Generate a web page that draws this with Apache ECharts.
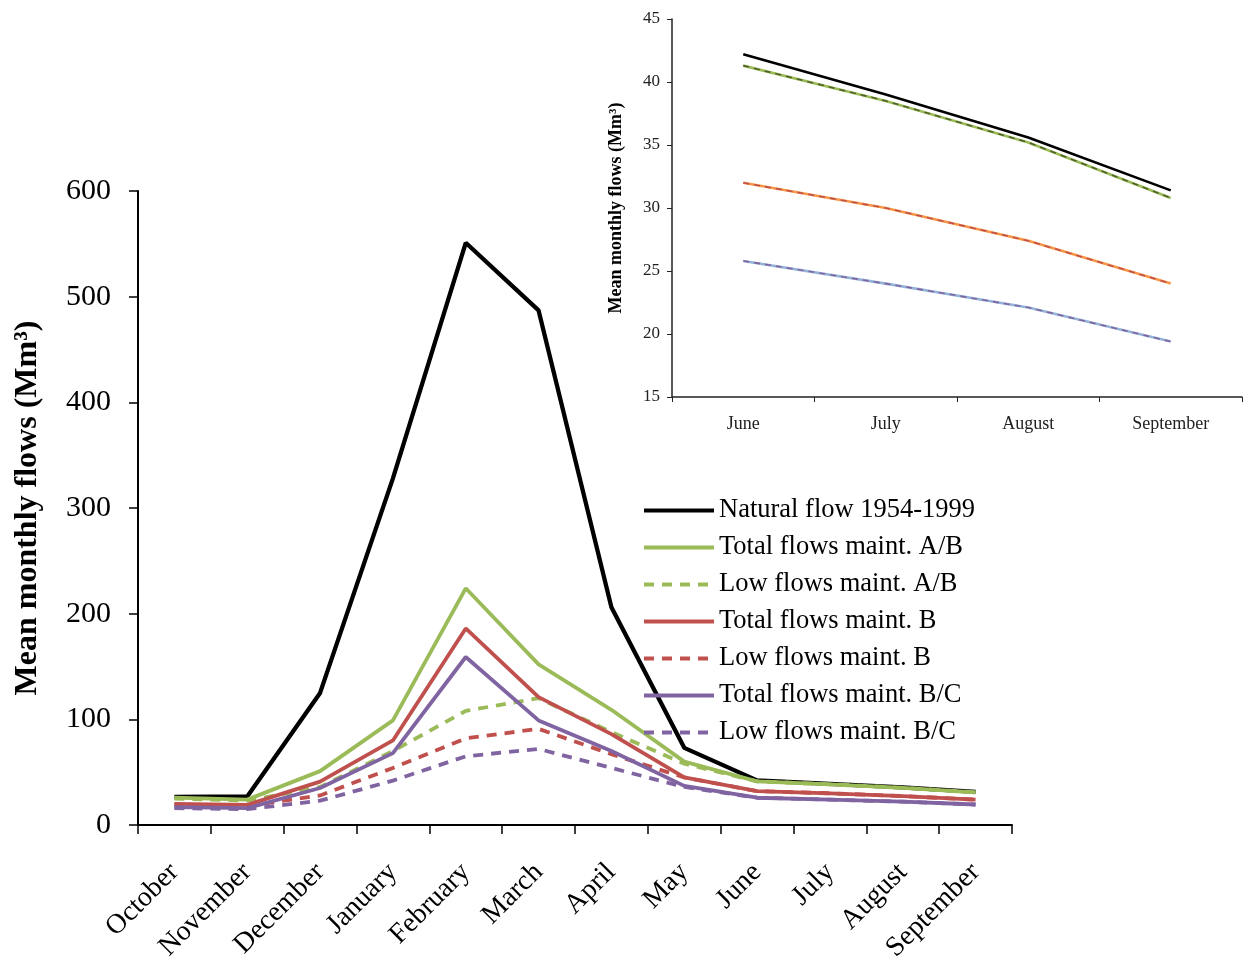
<!DOCTYPE html>
<html>
<head>
<meta charset="utf-8">
<script src="https://cdn.jsdelivr.net/npm/echarts@6/dist/echarts.min.js"></script>
<style>
html,body{margin:0;padding:0;background:#fff;}
#chart{width:1248px;height:969px;}
</style>
</head>
<body>
<div id="chart"></div>
<script>
// ---- data ----
const months = ['October','November','December','January','February','March','April','May','June','July','August','September'];
const yTicks = [0, 100, 200, 300, 400, 500, 600];
const natural = [26.5, 27, 125, 328, 551, 487, 206, 73, 42.2, 39.0, 35.6, 31.4];
const totalAB = [26, 24, 51, 99, 224, 152, 109, 60, 41.3, 38.5, 35.2, 30.8];
const lowAB   = [25, 23, 36, 70, 108, 120, 88, 58, 41.3, 38.5, 35.2, 30.8];
const totalB  = [20, 19, 41, 80, 186, 121, 86, 45, 32.0, 30.0, 27.4, 24.0];
const lowB    = [19, 18, 28, 54, 82, 91, 67, 45, 32.0, 30.0, 27.4, 24.0];
const totalBC = [17, 16, 35, 68, 159, 99, 70, 37, 25.8, 24.0, 22.1, 19.4];
const lowBC   = [16, 15, 23, 42, 65, 72, 54, 36, 25.8, 24.0, 22.1, 19.4];

const insetMonths  = ['June','July','August','September'];
const insetTicks   = [15, 20, 25, 30, 35, 40, 45];
const insetNatural = [42.2, 39.0, 35.6, 31.4];
const insetAB      = [41.3, 38.5, 35.2, 30.8];
const insetB       = [32.0, 30.0, 27.4, 24.0];
const insetBC      = [25.8, 24.0, 22.1, 19.4];

const names = ['Natural flow 1954-1999','Total flows maint. A/B','Low flows maint. A/B','Total flows maint. B','Low flows maint. B','Total flows maint. B/C','Low flows maint. B/C'];

const serif = '"Liberation Serif","Times New Roman",serif';

function mainLine(name, data, color, dashed, width) {
  return {
    name, type: 'line', data, xAxisIndex: 0, yAxisIndex: 0,
    symbol: 'none', showSymbol: false, smooth: false,
    lineStyle: { color, width: width || 3.8, type: dashed ? [10, 8] : 'solid' },
    itemStyle: { color }
  };
}
function insetLine(name, data, color, dashed, z) {
  return {
    name, type: 'line', data, xAxisIndex: 1, yAxisIndex: 1,
    symbol: 'none', showSymbol: false, z: z || 2,
    lineStyle: { color, width: dashed ? 1.6 : 2.6, type: dashed ? [6, 5] : 'solid' },
    itemStyle: { color }
  };
}

const chart = echarts.init(document.getElementById('chart'));
chart.setOption({
  animation: false,
  backgroundColor: '#fff',
  grid: [
    { left: 138, right: 236, top: 191, bottom: 144, containLabel: false },
    { left: 672, right: 6, top: 19, bottom: 572, containLabel: false }
  ],
  legend: {
    data: names,
    orient: 'vertical',
    left: 637, top: 492,
    itemWidth: 70, itemHeight: 14, itemGap: 10,
    itemStyle: { opacity: 0 },
    lineStyle: { width: 4 },
    textStyle: { fontFamily: serif, fontSize: 26.5, color: '#000', lineHeight: 25 }
  },
  xAxis: [
    {
      type: 'category', data: months, gridIndex: 0, boundaryGap: true,
      axisLine: { lineStyle: { color: '#000', width: 2 } },
      axisTick: { show: true, inside: false, length: 9, lineStyle: { color: '#000', width: 1.5 } },
      axisLabel: { rotate: 45, interval: 0, fontFamily: serif, fontSize: 28, color: '#000', margin: 43 }
    },
    {
      type: 'category', data: insetMonths, gridIndex: 1, boundaryGap: true,
      axisLine: { lineStyle: { color: '#222', width: 1.5 } },
      axisTick: { show: true, inside: false, length: 5, lineStyle: { color: '#222', width: 1 } },
      axisLabel: { interval: 0, fontFamily: serif, fontSize: 18, color: '#222', margin: 18 }
    }
  ],
  yAxis: [
    {
      type: 'value', gridIndex: 0, min: yTicks[0], max: yTicks[yTicks.length - 1], interval: 100,
      name: 'Mean monthly flows (Mm³)', nameLocation: 'middle', nameGap: 94,
      nameTextStyle: { fontFamily: serif, fontSize: 32, fontWeight: 'bold', color: '#000' },
      axisLine: { show: true, lineStyle: { color: '#000', width: 2 } },
      axisTick: { show: true, inside: false, length: 9, lineStyle: { color: '#000', width: 1.5 } },
      axisLabel: { fontFamily: serif, fontSize: 30, color: '#000', margin: 27 },
      splitLine: { show: false }
    },
    {
      type: 'value', gridIndex: 1, min: insetTicks[0], max: insetTicks[insetTicks.length - 1], interval: 5,
      name: 'Mean monthly flows (Mm³)', nameLocation: 'middle', nameGap: 47,
      nameTextStyle: { fontFamily: serif, fontSize: 18, fontWeight: 'bold', color: '#000' },
      axisLine: { show: true, lineStyle: { color: '#222', width: 1.5 } },
      axisTick: { show: true, inside: false, length: 5, lineStyle: { color: '#222', width: 1 } },
      axisLabel: { fontFamily: serif, fontSize: 17, color: '#222', margin: 12 },
      splitLine: { show: false }
    }
  ],
  series: [
    mainLine(names[0], natural, '#000000', false, 4.3),
    mainLine(names[1], totalAB, '#9BBB59', false),
    mainLine(names[2], lowAB, '#9BBB59', true),
    mainLine(names[3], totalB, '#C0504D', false),
    mainLine(names[4], lowB, '#C0504D', true),
    mainLine(names[5], totalBC, '#8064A2', false),
    mainLine(names[6], lowBC, '#8064A2', true),
    insetLine('inset natural', insetNatural, '#000000', false, 3),
    insetLine('inset total A/B', insetAB, '#9BBB59', false, 2),
    insetLine('inset low A/B', insetAB, '#4F6228', true, 3),
    insetLine('inset total B', insetB, '#F79646', false, 2),
    insetLine('inset low B', insetB, '#C0504D', true, 3),
    insetLine('inset total B/C', insetBC, '#95B3D7', false, 2),
    insetLine('inset low B/C', insetBC, '#8064A2', true, 3)
  ]
});
</script>
</body>
</html>
